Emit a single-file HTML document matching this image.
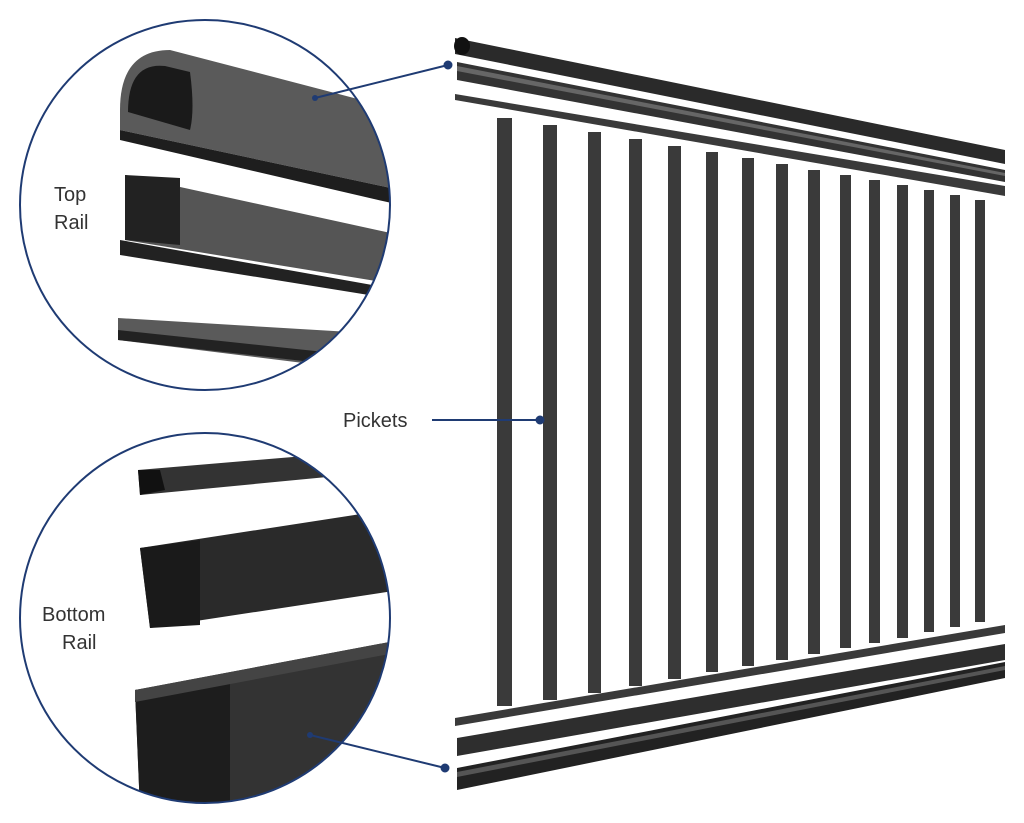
<!DOCTYPE html>
<html><head><meta charset="utf-8"><style>
html,body{margin:0;padding:0;background:#fff;}
svg{display:block;}
text{font-family:"Liberation Sans",sans-serif;font-size:20px;fill:#333;}
</style></head><body>
<svg width="1024" height="823" viewBox="0 0 1024 823" xmlns="http://www.w3.org/2000/svg">
<defs>
<clipPath id="c1"><circle cx="205" cy="205" r="185"/></clipPath>
<clipPath id="c2"><circle cx="205" cy="618" r="185"/></clipPath>
</defs>

<!-- top rails -->
<polygon points="455,38 1005,150 1005,164 455,54" fill="#2a2a2a"/>
<ellipse cx="462" cy="46" rx="8" ry="9" fill="#111"/>
<polygon points="457,62 1005,170 1005,182 457,80" fill="#333"/>
<polygon points="457,66 1005,173 1005,176 457,71" fill="#666"/>
<polygon points="455,94 1005,186 1005,196 455,100" fill="#3a3a3a"/>

<!-- pickets -->
<g fill="#3a3a3a">
<polygon points="497,118 512,118 512,706 497,706"/>
<polygon points="543,125 557,125 557,700 543,700"/>
<polygon points="588,132 601,132 601,693 588,693"/>
<polygon points="629,139 642,139 642,686 629,686"/>
<polygon points="668,146 681,146 681,679 668,679"/>
<polygon points="706,152 718,152 718,672 706,672"/>
<polygon points="742,158 754,158 754,666 742,666"/>
<polygon points="776,164 788,164 788,660 776,660"/>
<polygon points="808,170 820,170 820,654 808,654"/>
<polygon points="840,175 851,175 851,648 840,648"/>
<polygon points="869,180 880,180 880,643 869,643"/>
<polygon points="897,185 908,185 908,638 897,638"/>
<polygon points="924,190 934,190 934,632 924,632"/>
<polygon points="950,195 960,195 960,627 950,627"/>
<polygon points="975,200 985,200 985,622 975,622"/>
</g>

<!-- bottom rails -->
<polygon points="455,718 1005,625 1005,633 455,726" fill="#3a3a3a"/>
<polygon points="457,738 1005,644 1005,660 457,756" fill="#2e2e2e"/>
<polygon points="457,768 1005,662 1005,678 457,790" fill="#222"/>
<polygon points="457,772 1005,666 1005,670 457,777" fill="#555"/>

<!-- top circle content -->
<g clip-path="url(#c1)">
<path d="M120,110 Q120,50 170,50 L400,110 L400,190 L120,130 Z" fill="#5a5a5a"/>
<path d="M128,112 Q128,62 165,66 L190,72 Q195,110 190,130 Z" fill="#1a1a1a"/>
<polygon points="120,130 400,190 400,205 120,140" fill="#1e1e1e"/>
<polygon points="125,175 400,235 400,285 125,240" fill="#555"/>
<polygon points="125,175 180,178 180,245 125,240" fill="#222"/>
<polygon points="120,240 400,290 400,300 120,255" fill="#222"/>
<polygon points="118,318 400,335 400,375 118,340" fill="#5a5a5a"/>
<polygon points="118,330 400,360 400,372 118,340" fill="#222"/>
</g>
<circle cx="205" cy="205" r="185" fill="none" stroke="#1f3b73" stroke-width="2"/>

<!-- bottom circle content -->
<g clip-path="url(#c2)">
<polygon points="138,470 400,448 400,470 140,495" fill="#333"/>
<polygon points="138,470 160,470 165,490 140,495" fill="#111"/>
<polygon points="140,548 400,508 400,590 150,628" fill="#2a2a2a"/>
<polygon points="140,548 200,540 200,625 150,628" fill="#1a1a1a"/>
<polygon points="135,690 400,640 400,810 140,810" fill="#333"/>
<polygon points="135,690 230,675 230,810 140,810" fill="#1d1d1d"/>
<polygon points="135,690 400,640 400,652 135,702" fill="#444"/>
</g>
<circle cx="205" cy="618" r="185" fill="none" stroke="#1f3b73" stroke-width="2"/>

<!-- leaders -->
<g stroke="#1f3b73" stroke-width="2" fill="#1f3b73">
<line x1="315" y1="98" x2="448" y2="65"/>
<circle cx="448" cy="65" r="3.5"/>
<line x1="432" y1="420" x2="540" y2="420"/>
<circle cx="540" cy="420" r="3.5"/>
<line x1="310" y1="735" x2="445" y2="768"/>
<circle cx="445" cy="768" r="3.5"/>
</g>
<circle cx="315" cy="98" r="3" fill="#1f3b73"/>
<circle cx="310" cy="735" r="3" fill="#1f3b73"/>

<text x="54" y="201">Top</text>
<text x="54" y="229">Rail</text>
<text x="42" y="621">Bottom</text>
<text x="62" y="649">Rail</text>
<text x="343" y="427">Pickets</text>
</svg>
</body></html>
